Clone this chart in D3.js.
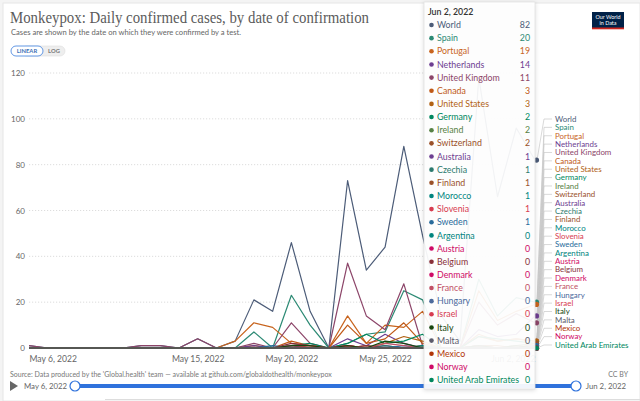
<!DOCTYPE html>
<html>
<head>
<meta charset="utf-8">
<script src="https://cdn.jsdelivr.net/npm/d3@7"></script>
<style>
  body { margin: 0; background: #f4f4f4; }
  svg { display: block; font-family: Lato, "Noto Sans", sans-serif; }
</style>
</head>
<body>
<div id="chart"></div>
<script>
// dates shown on the x axis (one per day)
const dates = [
  "2022-05-06","2022-05-07","2022-05-08","2022-05-09","2022-05-10","2022-05-11","2022-05-12",
  "2022-05-13","2022-05-14","2022-05-15","2022-05-16","2022-05-17","2022-05-18","2022-05-19",
  "2022-05-20","2022-05-21","2022-05-22","2022-05-23","2022-05-24","2022-05-25","2022-05-26",
  "2022-05-27","2022-05-28","2022-05-29","2022-05-30","2022-05-31","2022-06-01","2022-06-02"
];
const xTicks = ["2022-05-06", "2022-05-15", "2022-05-20", "2022-05-25", "2022-06-02"];
const yTicks = [0, 20, 40, 60, 80, 100, 120];

const countries = [
  "World","Spain","Portugal","Netherlands","United Kingdom","Canada","United States",
  "Germany","Ireland","Switzerland","Australia","Czechia","Finland","Morocco","Slovenia",
  "Sweden","Argentina","Austria","Belgium","Denmark","France","Hungary","Israel","Italy",
  "Malta","Mexico","Norway","United Arab Emirates"
];
const colors = [
  "#4c5c78","#2c8a74","#c8641e","#6d3e91","#8c4569","#c05917","#b16214",
  "#00875e","#578145","#9a5129","#6d3e91","#2c7a6e","#9a5129","#00847e","#d73c50",
  "#286b9b","#00847e","#cf0a66","#883039","#cf0a66","#c15065","#4c6a9c","#d73c50","#18470f",
  "#5b5b6b","#b13507","#cf0a66","#00875e"
];

// daily confirmed cases, May 6 .. Jun 2
const world       = [1,0,0,0,0,0,1,1,0,4,0,3,21,16,46,16,0,73,34,44,88,49,14,3,118,66,96,82];
const spain       = [0,0,0,0,0,0,0,0,0,0,0,0,7,0,23,10,0,2,6,7,25,21,0,0,30,14,22,20];
const portugal    = [0,0,0,0,0,0,0,0,0,0,0,3,11,9,2,1,0,14,2,10,9,16,0,0,25,12,16,19];
const netherlands = [0,0,0,0,0,0,0,0,0,0,0,0,0,0,0,0,0,4,1,6,2,0,0,0,8,5,6,14];
const uk          = [1,0,0,0,0,0,1,1,0,4,0,0,2,0,11,2,0,37,14,8,28,1,0,0,20,10,15,11];
const canada      = [0,0,0,0,0,0,0,0,0,0,0,0,0,0,3,1,0,10,2,4,11,2,0,0,6,3,4,3];
const us          = [0,0,0,0,0,0,0,0,0,0,0,0,1,0,1,0,0,1,0,2,5,3,0,0,5,3,4,3];
const germany     = [0,0,0,0,0,0,0,0,0,0,0,0,0,0,1,2,0,2,6,2,3,6,0,0,5,4,3,2];
const ireland     = [0,0,0,0,0,0,0,0,0,0,0,0,0,0,0,0,0,0,0,0,0,1,0,0,1,0,1,2];
const switzerland = [0,0,0,0,0,0,0,0,0,0,0,0,0,0,0,0,0,0,1,0,0,1,0,0,1,1,0,2];
const australia   = [0,0,0,0,0,0,0,0,0,0,0,0,1,0,1,0,0,0,0,1,0,0,0,0,1,0,0,1];
const czechia     = [0,0,0,0,0,0,0,0,0,0,0,0,0,0,0,0,0,0,0,1,0,0,0,0,0,0,0,1];
const finland     = [0,0,0,0,0,0,0,0,0,0,0,0,0,0,0,0,0,0,0,0,0,0,0,0,0,0,0,1];
const morocco     = [0,0,0,0,0,0,0,0,0,0,0,0,0,0,0,0,0,0,0,0,0,0,0,0,0,0,0,1];
const slovenia    = [0,0,0,0,0,0,0,0,0,0,0,0,0,0,0,0,0,0,0,0,0,0,0,0,0,0,0,1];
const sweden      = [0,0,0,0,0,0,0,0,0,0,0,0,0,1,0,0,0,0,0,0,1,0,0,0,0,0,0,1];
const argentina   = [0,0,0,0,0,0,0,0,0,0,0,0,0,0,0,0,0,0,0,0,0,1,0,0,0,0,0,0];
const austria     = [0,0,0,0,0,0,0,0,0,0,0,0,0,0,0,0,0,1,0,0,0,0,0,0,0,0,0,0];
const belgium     = [0,0,0,0,0,0,0,0,0,0,0,0,0,0,2,1,0,0,1,0,0,0,0,0,1,0,0,0];
const denmark     = [0,0,0,0,0,0,0,0,0,0,0,0,0,0,0,0,0,1,0,0,0,0,0,0,0,0,0,0];
const france      = [0,0,0,0,0,0,0,0,0,0,0,0,0,0,1,1,0,0,0,2,1,0,0,0,1,0,1,0];
const hungary     = [0,0,0,0,0,0,0,0,0,0,0,0,0,0,0,0,0,0,0,0,0,0,0,0,0,0,0,0];
const israel      = [0,0,0,0,0,0,0,0,0,0,0,0,0,0,0,1,0,1,0,0,0,0,0,0,0,0,0,0];
const italy       = [0,0,0,0,0,0,0,0,0,0,0,0,0,0,1,1,0,1,0,3,2,0,0,0,1,0,1,0];
const malta       = [0,0,0,0,0,0,0,0,0,0,0,0,0,0,0,0,0,0,0,0,0,0,0,0,0,0,0,0];
const mexico      = [0,0,0,0,0,0,0,0,0,0,0,0,0,0,0,0,0,0,0,0,0,0,0,0,0,0,0,0];
const norway      = [0,0,0,0,0,0,0,0,0,0,0,0,0,0,0,0,0,0,0,0,0,0,0,0,0,0,0,0];
const uae         = [0,0,0,0,0,0,0,0,0,0,0,0,0,0,0,0,0,0,0,0,0,0,0,0,0,0,0,0];

const seriesValues = [
  world, spain, portugal, netherlands, uk, canada, us, germany, ireland, switzerland,
  australia, czechia, finland, morocco, slovenia, sweden, argentina, austria, belgium,
  denmark, france, hungary, israel, italy, malta, mexico, norway, uae
];

const W = 640, H = 401;
const parse = d3.utcParse("%Y-%m-%d");
const fmtDate = d3.utcFormat("%b %-d, %Y");

const svg = d3.select("#chart").append("svg")
  .attr("width", W).attr("height", H);

// card
svg.append("rect").attr("x", 3).attr("y", 3).attr("width", W - 3).attr("height", H - 3)
  .attr("fill", "#fff").attr("stroke", "#e6e6e6");

// title + subtitle
svg.append("text").attr("x", 10).attr("y", 23)
  .attr("font-family", "'Liberation Serif', 'DejaVu Serif', serif")
  .attr("font-size", 16).attr("fill", "#5b5b5b")
  .attr("textLength", 359).attr("lengthAdjust", "spacingAndGlyphs")
  .text("Monkeypox: Daily confirmed cases, by date of confirmation");
svg.append("text").attr("x", 11).attr("y", 35)
  .attr("font-size", 7.8).attr("fill", "#666")
  .attr("textLength", 230).attr("lengthAdjust", "spacingAndGlyphs")
  .text("Cases are shown by the date on which they were confirmed by a test.");

// linear / log toggle
svg.append("rect").attr("x", 22).attr("y", 46).attr("width", 43).attr("height", 10)
  .attr("rx", 5).attr("fill", "#eee").attr("stroke", "#ddd").attr("stroke-width", 0.6);
svg.append("rect").attr("x", 11).attr("y", 46).attr("width", 32).attr("height", 10)
  .attr("rx", 5).attr("fill", "#fff").attr("stroke", "#3b7ddd").attr("stroke-width", 0.8);
svg.append("text").attr("x", 27).attr("y", 53.3).attr("text-anchor", "middle")
  .attr("font-size", 5.8).attr("font-weight", 700).attr("fill", "#3b6fb6").text("LINEAR");
svg.append("text").attr("x", 54).attr("y", 53.3).attr("text-anchor", "middle")
  .attr("font-size", 5.8).attr("font-weight", 700).attr("fill", "#777").text("LOG");

// logo
const logo = svg.append("g").attr("transform", "translate(592,12)");
logo.append("rect").attr("width", 32).attr("height", 17).attr("fill", "#002147");
logo.append("rect").attr("y", 15.5).attr("width", 32).attr("height", 1.8).attr("fill", "#ce261e");
logo.append("text").attr("x", 16).attr("y", 7).attr("text-anchor", "middle")
  .attr("font-size", 5.4).attr("fill", "#fff").text("Our World");
logo.append("text").attr("x", 16).attr("y", 13).attr("text-anchor", "middle")
  .attr("font-size", 5.4).attr("fill", "#fff").text("in Data");

// scales
const x = d3.scaleUtc()
  .domain([parse(dates[0]), parse(dates[dates.length - 1])])
  .range([29, 535]);
const y = d3.scaleLinear().domain([0, 120]).range([348, 73]);

// grid + y labels
const yAxis = svg.append("g")
  .call(d3.axisLeft(y).tickValues(yTicks).tickSize(0).tickPadding(4));
yAxis.select(".domain").remove();
yAxis.attr("transform", "translate(29,0)");
yAxis.selectAll("text").attr("font-size", 8).attr("fill", "#666").attr("font-family", "Lato");
svg.append("g").selectAll("line").data(yTicks).join("line")
  .attr("x1", 29).attr("x2", 535)
  .attr("y1", d => y(d)).attr("y2", d => y(d))
  .attr("stroke", "#ddd").attr("stroke-dasharray", "1.2,1.8");

// x labels
const xAxis = svg.append("g").attr("transform", "translate(0,348)")
  .call(d3.axisBottom(x).tickValues(xTicks.map(parse)).tickFormat(fmtDate).tickSize(0).tickPadding(8));
xAxis.select(".domain").remove();
xAxis.selectAll("text").attr("font-size", 8.6).attr("fill", "#666").attr("font-family", "Lato")
  .attr("text-anchor", (d, i) => i === 0 ? "start" : i === xTicks.length - 1 ? "end" : "middle");

// lines
const line = d3.line()
  .x((d, i) => x(parse(dates[i])))
  .y(d => y(d));
svg.append("g").selectAll("path").data(seriesValues).join("path")
  .attr("d", d => line(d))
  .attr("fill", "none")
  .attr("stroke", (d, i) => colors[i])
  .attr("stroke-width", 1.2)
  .attr("stroke-linejoin", "round");

// end dots and right-hand labels
const last = dates.length - 1;
const xEnd = x(parse(dates[last]));
const labelTop = 119, labelStep = 8.37;
const conn = svg.append("g");
seriesValues.forEach((vals, i) => {
  const ly = labelTop + i * labelStep;
  const vy = y(vals[last]);
  conn.append("path")
    .attr("d", `M${xEnd + 2},${vy} L${xEnd + 9},${ly} L${xEnd + 17},${ly}`)
    .attr("fill", "none").attr("stroke", "#c8c8c8").attr("stroke-width", 0.7);
});
svg.append("g").selectAll("text").data(countries).join("text")
  .attr("x", xEnd + 20)
  .attr("y", (d, i) => labelTop + i * labelStep + 2.8)
  .attr("font-size", 7.9)
  .attr("fill", (d, i) => colors[i])
  .text(d => d);
svg.append("g").selectAll("circle").data(seriesValues).join("circle")
  .attr("cx", xEnd + 1.5)
  .attr("cy", d => y(d[last]))
  .attr("r", 2.6)
  .attr("fill", (d, i) => colors[i]);

// source line
svg.append("text").attr("x", 10).attr("y", 377).attr("font-size", 7).attr("fill", "#777")
  .text("Source: Data produced by the 'Global.health' team \u2014 available at github.com/globaldothealth/monkeypox");
svg.append("text").attr("x", 628).attr("y", 377).attr("text-anchor", "end")
  .attr("font-size", 7).attr("fill", "#777").text("CC BY");

// timeline
svg.append("path").attr("d", "M10,381 L18,386 L10,391 Z").attr("fill", "#666");
svg.append("text").attr("x", 24).attr("y", 389).attr("font-size", 7.8).attr("fill", "#666")
  .text(fmtDate(parse(dates[0])));
svg.append("line").attr("x1", 75).attr("x2", 576).attr("y1", 386).attr("y2", 386)
  .attr("stroke", "#2f72dc").attr("stroke-width", 4);
[75, 576].forEach(cx => svg.append("circle").attr("cx", cx).attr("cy", 386).attr("r", 5)
  .attr("fill", "#fff").attr("stroke", "#2f72dc").attr("stroke-width", 1.2));
svg.append("text").attr("x", 626).attr("y", 389).attr("text-anchor", "end")
  .attr("font-size", 7.8).attr("fill", "#666").text(fmtDate(parse(dates[last])));

// tab bar hint
svg.append("line").attr("x1", 105).attr("x2", 640).attr("y1", 399.5).attr("y2", 399.5)
  .attr("stroke", "#ddd");

// hover tooltip for Jun 2
const tip = svg.append("g");
tip.append("rect").attr("x", 424).attr("y", 2).attr("width", 111).attr("height", 387)
  .attr("fill", "#fff").attr("fill-opacity", 0.93)
  .attr("stroke", "#e2e2e2").attr("stroke-width", 0.8)
  .style("filter", "drop-shadow(0 1px 2px rgba(0,0,0,0.15))");
tip.append("text").attr("x", 428).attr("y", 15).attr("font-size", 8.8)
  .attr("font-weight", 600).attr("fill", "#333").text(fmtDate(parse(dates[last])));
const rowTop = 25, rowStep = 13.15;
countries.forEach((c, i) => {
  const cy = rowTop + i * rowStep;
  tip.append("circle").attr("cx", 431.5).attr("cy", cy).attr("r", 2.3).attr("fill", colors[i]);
  tip.append("text").attr("x", 437).attr("y", cy + 3.1).attr("font-size", 8.8)
    .attr("fill", colors[i]).text(c);
  tip.append("text").attr("x", 530).attr("y", cy + 3.1).attr("text-anchor", "end")
    .attr("font-size", 8.8).attr("fill", colors[i]).text(seriesValues[i][last]);
});
</script>
</body>
</html>
